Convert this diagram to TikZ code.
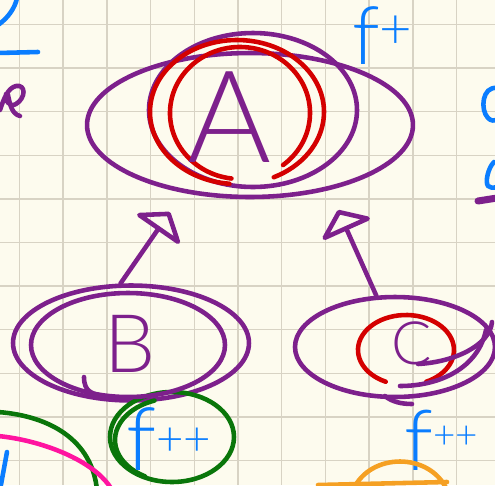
\documentclass[tikz,border=0pt]{standalone}
\usepackage{fontspec}
\setsansfont{Liberation Sans}
\newfontfamily\handfont[UprightFont={* Light}]{Lato}
\usepackage{tikz}
\usetikzlibrary{shapes.geometric}
\usetikzlibrary{arrows.meta}
\usepackage{xcolor}
\definecolor{paper}{RGB}{253,251,238}
\definecolor{gridgray}{RGB}{216,211,196}
\definecolor{inkpurple}{RGB}{125,32,140}
\definecolor{inkred}{RGB}{212,0,0}
\definecolor{inkblue}{RGB}{10,125,255}
\definecolor{inkgreen}{RGB}{10,118,10}
\definecolor{inkpink}{RGB}{255,20,160}
\definecolor{inkorange}{RGB}{245,160,35}

\begin{document}
\begin{tikzpicture}[
x=0.02cm, y=-0.02cm,
every node/.style={inner sep=0},
ink/.style={line width=2.6pt, line cap=round, line join=round},
bubble/.style={ellipse, draw=inkpurple, ink},
letter/.style={text=inkpurple, font=\handfont},
note/.style={text=inkblue, font=\handfont, anchor=base west},
link/.style={ink, draw=inkpurple, -{Triangle[open, length=13pt, width=34pt, round]}},
grid line/.style={draw=gridgray, line width=0.8pt}
]
\useasboundingbox (0,0) rectangle (495,485);
\fill[paper] (0,0) rectangle (495,485);
\clip (0,0) rectangle (495,485);
\foreach \i in {0,...,10} {
  \draw[grid line] ({19.5+43.7*\i},0) -- ++(0,485);
  \draw[grid line] (0,{24.5+43.6*\i}) -- ++(495,0);
}

\node[bubble, minimum width=6.52cm, minimum height=2.88cm] (A) at (250,125) {};
\node[bubble, minimum width=4.72cm, minimum height=2.3cm] (B) at (131,343) {};
\node[bubble, minimum width=4cm, minimum height=2cm] (C) at (395,347) {};
\node[ellipse, draw=inkgreen, ink, minimum width=2.48cm, minimum height=1.8cm] (ring) at (172,437) {};

\draw[ink, inkpurple] (253,110) ellipse [x radius=104, y radius=77];
\draw[ink, inkred] (237,112) ++(95:87 and 72) arc[start angle=95, end angle=425, x radius=87, y radius=72];
\draw[ink, inkred] (240,113) ++(97:70 and 66) arc[start angle=97, end angle=412, x radius=70, y radius=66];
\draw[ink, inkpurple] (128,345) ellipse [x radius=97, y radius=52];
\draw[ink, inkpurple] (84,377) .. controls (84,392) and (92,395) .. (110,397);
\draw[ink, inkred] (406,350) ++(115:48 and 35) arc[start angle=115, end angle=425, x radius=48, y radius=35];
\draw[ink, inkpurple] (418,364) .. controls (455,362) and (490,345) .. (492,322);
\draw[ink, inkpurple] (400,386) .. controls (440,386) and (478,368) .. (486,330);
\draw[ink, inkpurple] (385,396) .. controls (392,402) and (402,404) .. (412,404);
\draw[ink, inkgreen] (175,440) ++(120:60 and 42) arc[start angle=120, end angle=250, x radius=60, y radius=42];

\node[letter, font=\handfont\fontsize{73}{73}\selectfont] (a) at (230,117) {A};
\node[letter, font=\handfont\fontsize{46}{46}\selectfont] (b) at (130,344) {B};
\node[letter, font=\handfont\fontsize{34}{34}\selectfont] (c) at (412,343) {C};

\node[note] (fA) at (352,64) {\fontsize{46}{46}\selectfont f\raisebox{9pt}{\fontsize{32}{32}\selectfont +}};
\node[note] (fB) at (126,470) {\fontsize{50}{50}\selectfont f\raisebox{8pt}{\fontsize{27}{27}\selectfont ++}};
\node[note] (fC) at (404,470) {\fontsize{48}{48}\selectfont f\raisebox{12pt}{\fontsize{22}{22}\selectfont ++}};

\coordinate (tipB) at (170,212);
\coordinate (tipC) at (338,210);
\draw[link] (B.100) -- (tipB);
\draw[link] (C.110) -- (tipC);

\draw[ink, inkblue] (-2,25) .. controls (8,18) and (15,8) .. (17,-2);
\draw[ink, inkblue] (-2,53) -- (38,52);
\draw[ink, inkpurple] (0,110) .. controls (4,98) and (8,88) .. (16,86) .. controls (26,84) and (26,98) .. (16,104) .. controls (10,108) and (4,100) .. (6,94);
\draw[ink, inkpurple] (8,95) .. controls (10,105) and (12,114) .. (20,116);
\draw[ink, inkblue] (497,88) .. controls (482,86) and (480,110) .. (488,118) .. controls (491,121) and (494,121) .. (497,120);
\draw[ink, inkblue] (494,162) .. controls (488,168) and (485,182) .. (488,186) .. controls (490,188) and (493,188) .. (497,187);
\draw[line width=4pt, line cap=round, inkpurple] (478,201) -- (497,198);
\draw[ink, inkgreen] (-2,412) .. controls (50,416) and (92,440) .. (97,490);
\draw[ink, inkpink] (-2,436) .. controls (40,440) and (95,460) .. (112,490);
\draw[ink, inkblue] (7,452) -- (0,490);
\draw[ink, inkorange] (353,490) .. controls (370,452) and (430,452) .. (447,490);
\draw[ink, inkorange] (318,485) -- (447,482);
\end{tikzpicture}
\end{document}
